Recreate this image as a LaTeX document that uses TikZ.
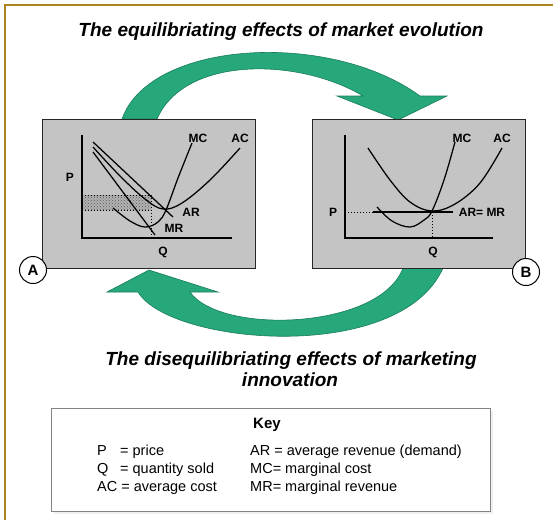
\documentclass[tikz,border=0pt]{standalone}
\usepackage{fontspec}
\setmainfont{Liberation Sans}
\usetikzlibrary{patterns}
\definecolor{gold}{RGB}{170,135,30}
\definecolor{arrowgreen}{RGB}{38,168,122}
\definecolor{arrowedge}{RGB}{25,125,88}
\definecolor{panelgray}{RGB}{196,196,196}
\definecolor{keyborder}{RGB}{130,130,130}
\begin{document}
\begin{tikzpicture}[x=1pt,y=-1pt,
  panel/.style={draw=black!85,line width=1.3pt,fill=panelgray,inner sep=0pt,minimum width=213pt,minimum height=149pt},
  curve/.style={line width=1.25pt,black},
  axis/.style={line width=1.4pt},
  dotline/.style={dotted,line width=1pt},
  lbl/.style={font=\fontsize{12}{12}\selectfont\bfseries,inner sep=0pt},
  titletext/.style={font=\fontsize{19}{22}\selectfont\bfseries\itshape,anchor=base,inner sep=0pt},
  keytext/.style={font=\fontsize{14.5}{16}\selectfont,anchor=base west,inner sep=0pt},
  circ/.style={circle,draw,line width=1pt,fill=white,minimum size=27pt,inner sep=0pt,font=\fontsize{15}{15}\selectfont\bfseries},
  bigarrow/.style={fill=arrowgreen,draw=arrowedge,line width=0.6pt}]

\useasboundingbox (0,0) rectangle (553,520);
\fill[white] (0,0) rectangle (553,520);
\draw[gold,line width=2pt] (5,520) -- (5,5) -- (553,5);

% titles
\node[titletext] (t1) at (281,36) {The equilibriating effects of market evolution};
\node[titletext] (t2) at (291,365) {The disequilibriating effects of marketing};
\node[titletext] (t3) at (290,386) {innovation};

% big arrows
\path[bigarrow] (122,119) .. controls (150,40) and (330,30) .. (420,96)
  -- (447,96) -- (398,120) -- (337,96) -- (363,96)
  .. controls (300,58) and (185,55) .. (157,119) -- cycle;
\path[bigarrow] (443,268) .. controls (400,365) and (170,345) .. (138,292)
  -- (107,292) -- (149,270) -- (218,292) -- (190,292)
  .. controls (220,335) and (380,330) .. (403,268) -- cycle;

% panels
\node[panel,anchor=north west] (pa) at (42,119) {};
\node[panel,anchor=north west] (pb) at (312,119) {};

% panel A content
\fill[black!30] (82,195) rectangle (151,210);
\fill[pattern=crosshatch dots,pattern color=black!65] (82,195) rectangle (151,210);
\draw[dotline] (82,195) -- (151,195) -- (151,238);
\draw[dotline] (82,210) -- (151,210);
\draw[axis] (82,135) -- (82,238) -- (232,238);
\draw[curve] (93,142) -- (173,217);
\draw[curve] (93,152) -- (155,235);
\draw[curve] plot[smooth,tension=0.6] coordinates {(93,147) (120,176) (145,199) (163,209) (182,203) (210,180) (240,148)};
\draw[curve] plot[smooth,tension=0.6] coordinates {(113,208) (130,221) (145,227) (158,222) (166,210) (178,178) (192,143)};
\node[lbl] (pA) at (70,177) {P};
\node[lbl] (qA) at (163,252) {Q};
\node[lbl] (mcA) at (198,138) {MC};
\node[lbl] (acA) at (240,138) {AC};
\node[lbl] (arA) at (191,212) {AR};
\node[lbl] (mrA) at (174,228) {MR};

% panel B content
\draw[dotline] (345,212) -- (373,212);
\draw[dotline] (432,212) -- (432,238);
\draw[axis] (345,135) -- (345,238) -- (493,238);
\draw[curve] (373,212) -- (453,212);
\draw[curve] plot[smooth,tension=0.6] coordinates {(368,148) (390,180) (410,202) (432,211) (455,204) (480,183) (502,148)};
\draw[curve] plot[smooth,tension=0.6] coordinates {(377,207) (392,221) (410,227) (424,220) (432,211) (444,180) (455,142)};
\node[lbl] (pB) at (333,212) {P};
\node[lbl] (qB) at (433,252) {Q};
\node[lbl] (mcB) at (462,138) {MC};
\node[lbl] (acB) at (502,138) {AC};
\node[lbl] (armrB) at (482,212) {AR= MR};

% circles
\node[circ] (ca) at (33,270) {A};
\node[circ] (cb) at (526,272) {B};

% key
\fill[black!6] (54,411) rectangle (493,514);
\node[draw=keyborder,line width=1pt,fill=white,minimum width=439pt,minimum height=103pt,inner sep=0pt] (key) at (270.5,459.5) {};
\node[font=\fontsize{15}{16}\selectfont\bfseries,inner sep=0pt] (keyt) at (267,425) {Key};
\node[keytext] (k1a) at (97,455) {P};
\node[keytext] (k1b) at (120,455) {= price};
\node[keytext] (k2a) at (97,473) {Q};
\node[keytext] (k2b) at (120,473) {= quantity sold};
\node[keytext] (k3) at (97,491) {AC = average cost};
\node[keytext] (k4) at (250,455) {AR = average revenue (demand)};
\node[keytext] (k5) at (250,473) {MC= marginal cost};
\node[keytext] (k6) at (250,491) {MR= marginal revenue};
\end{tikzpicture}
\end{document}
